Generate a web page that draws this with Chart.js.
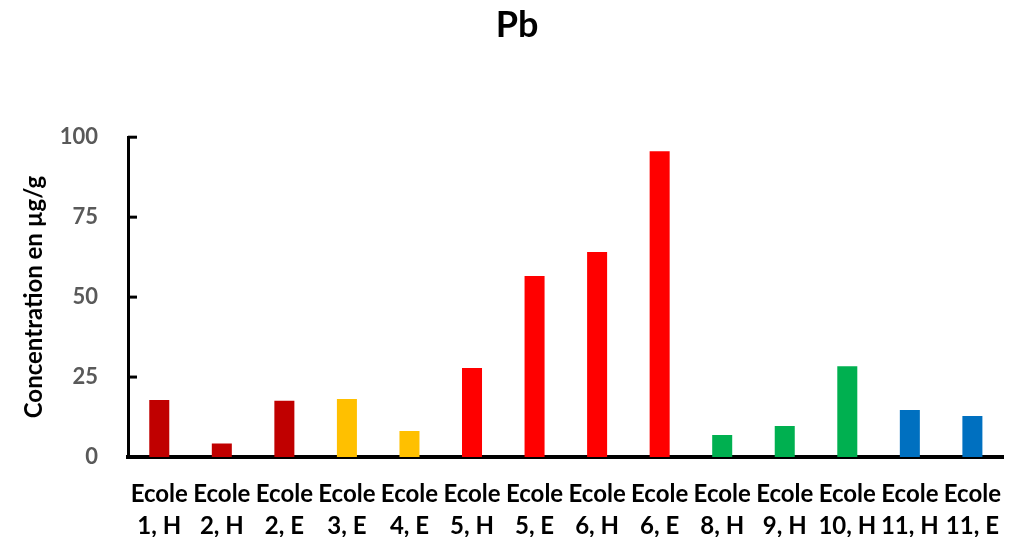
<!DOCTYPE html>
<html>
<head>
<meta charset="utf-8">
<script src="https://cdn.jsdelivr.net/npm/chart.js@4"></script>
<style>
    body { margin: 0; background: #fff; }
    #wrap { width: 1014px; height: 537px; }
</style>
</head>
<body>
<div id="wrap"><canvas id="graficoPb"></canvas></div>
<script>
// valeurs
const ecoles = [
    ['Ecole', '1, H'], ['Ecole', '2, H'], ['Ecole', '2, E'], ['Ecole', '3, E'],
    ['Ecole', '4, E'], ['Ecole', '5, H'], ['Ecole', '5, E'], ['Ecole', '6, H'],
    ['Ecole', '6, E'], ['Ecole', '8, H'], ['Ecole', '9, H'], ['Ecole', '10, H'],
    ['Ecole', '11, H'], ['Ecole', '11, E']
];
const concentrations = [17.8, 4.2, 17.6, 18.1, 8.1, 27.8, 56.6, 64.1, 95.6, 6.9, 9.7, 28.4, 14.7, 12.8];
const yTicks = [0, 25, 50, 75, 100];

const couleurs = [
    '#C00000', '#C00000', '#C00000', '#FFC000', '#FFC000', '#FF0000', '#FF0000',
    '#FF0000', '#FF0000', '#00B050', '#00B050', '#00B050', '#0070C0', '#0070C0'
];

const fonte = 'Lato, "Open Sans", sans-serif';

// petits traits vers l'interieur sur l'axe y
const ticksInterieurs = {
    id: 'ticksInterieurs',
    afterDraw(chart) {
        const ctx = chart.ctx;
        const y = chart.scales.y;
        ctx.save();
        ctx.strokeStyle = '#000';
        ctx.lineWidth = 3;
        yTicks.forEach((v) => {
            const py = y.getPixelForValue(v);
            ctx.beginPath();
            ctx.moveTo(y.right, py);
            ctx.lineTo(y.right + 9, py);
            ctx.stroke();
        });
        ctx.restore();
    }
};

const graficoPb = document.getElementById('graficoPb');

new Chart(graficoPb, {
    type: 'bar',
    data: {
        labels: ecoles,
        datasets: [{
            label: 'Pb',
            data: concentrations,
            backgroundColor: couleurs,
            categoryPercentage: 1,
            barPercentage: 0.32
        }]
    },
    options: {
        responsive: true,
        maintainAspectRatio: false,
        animation: false,
        layout: { padding: { top: 4, left: 20, right: 0, bottom: 0 } },
        plugins: {
            legend: { display: false },
            tooltip: { enabled: false },
            title: {
                display: true,
                text: 'Pb',
                color: '#000',
                font: { family: fonte, size: 36, weight: 'bold' },
                padding: { top: 0, bottom: 90 }
            }
        },
        scales: {
            x: {
                afterFit: (scale) => { scale.height = 80; },
                grid: { display: false },
                border: { color: '#000', width: 4 },
                ticks: {
                    color: '#000',
                    padding: 13,
                    maxRotation: 0,
                    autoSkip: false,
                    font: { family: fonte, size: 24, weight: 'bold', lineHeight: 1.33 }
                }
            },
            y: {
                min: 0,
                max: 100,
                afterFit: (scale) => { scale.width = 108; },
                afterBuildTicks: (scale) => { scale.ticks = yTicks.map(v => ({ value: v })); },
                grid: { display: false },
                border: { color: '#000', width: 3 },
                ticks: {
                    color: '#595959',
                    padding: 22,
                    font: { family: fonte, size: 22, weight: 'bold' }
                },
                title: {
                    display: true,
                    text: 'Concentration en µg/g',
                    color: '#000',
                    padding: 0,
                    font: { family: fonte, size: 24, weight: 'bold' }
                }
            }
        }
    },
    plugins: [ticksInterieurs]
});
</script>
</body>
</html>
